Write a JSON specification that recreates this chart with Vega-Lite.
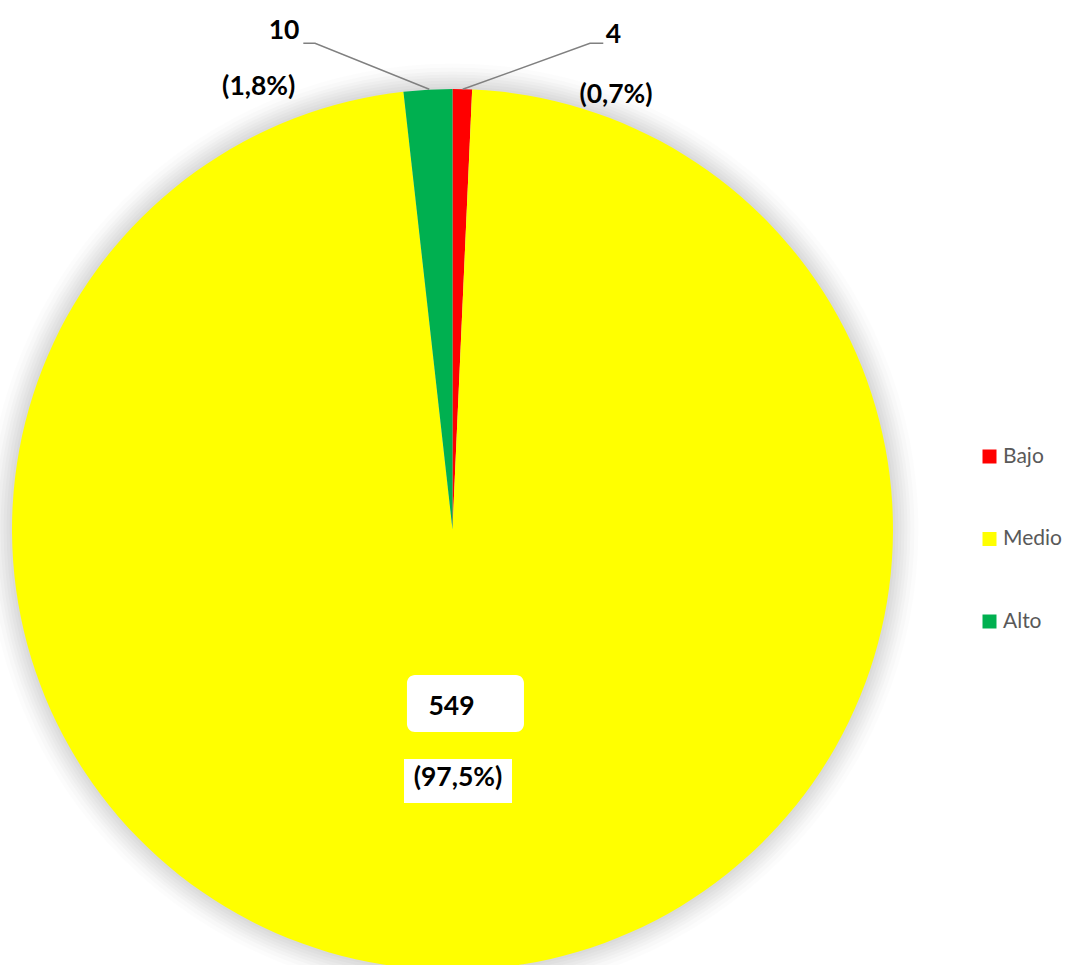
{
  "$schema": "https://vega.github.io/schema/vega-lite/v6.json",
  "width": 1066,
  "height": 965,
  "padding": 0,
  "autosize": {"type": "none"},
  "background": "white",
  "config": {"view": {"stroke": null}},
  "datasets": {
    "niveles": [
      {"nivel": "Bajo", "n": 4, "orden": 1},
      {"nivel": "Medio", "n": 549, "orden": 2},
      {"nivel": "Alto", "n": 10, "orden": 3}
    ],
    "posiciones": [
      {"nivel": "Bajo", "vx": 0.3655, "vy": 1.1237, "px": 0.3712, "py": 0.9864},
      {"nivel": "Medio", "vx": -0.0023, "vy": -0.403, "px": 0.0125, "py": -0.5641},
      {"nivel": "Alto", "vx": -0.3825, "vy": 1.1317, "px": -0.4399, "py": 1.0045}
    ],
    "guias": [
      {"nivel": "Alto", "paso": 1, "gx": -0.3387, "gy": 1.1037},
      {"nivel": "Alto", "paso": 2, "gx": -0.3121, "gy": 1.1037},
      {"nivel": "Alto", "paso": 3, "gx": -0.0527, "gy": 0.9993},
      {"nivel": "Bajo", "paso": 1, "gx": 0.3423, "gy": 1.1037},
      {"nivel": "Bajo", "paso": 2, "gx": 0.3121, "gy": 1.1037},
      {"nivel": "Bajo", "paso": 3, "gx": 0.0232, "gy": 0.9993}
    ],
    "centro": [{"cx": 0, "cy": 0}]
  },
  "layer": [
    {
      "data": {"name": "centro"},
      "layer": [
        {"mark": {"type": "arc", "theta": 0, "theta2": 6.2832, "outerRadius": 443, "fill": "#000", "fillOpacity": 0.02}},
        {"mark": {"type": "arc", "theta": 0, "theta2": 6.2832, "outerRadius": 446, "fill": "#000", "fillOpacity": 0.02}},
        {"mark": {"type": "arc", "theta": 0, "theta2": 6.2832, "outerRadius": 449, "fill": "#000", "fillOpacity": 0.02}},
        {"mark": {"type": "arc", "theta": 0, "theta2": 6.2832, "outerRadius": 452, "fill": "#000", "fillOpacity": 0.02}},
        {"mark": {"type": "arc", "theta": 0, "theta2": 6.2832, "outerRadius": 455, "fill": "#000", "fillOpacity": 0.02}},
        {"mark": {"type": "arc", "theta": 0, "theta2": 6.2832, "outerRadius": 458, "fill": "#000", "fillOpacity": 0.02}},
        {"mark": {"type": "arc", "theta": 0, "theta2": 6.2832, "outerRadius": 462, "fill": "#000", "fillOpacity": 0.015}},
        {"mark": {"type": "arc", "theta": 0, "theta2": 6.2832, "outerRadius": 466, "fill": "#000", "fillOpacity": 0.01}}
      ],
      "encoding": {
        "x": {"field": "cx", "type": "quantitative", "scale": {"domain": [-1.02724, 1.39274], "nice": false, "zero": false}, "axis": null},
        "y": {"field": "cy", "type": "quantitative", "scale": {"domain": [-0.98865, 1.20204], "nice": false, "zero": false}, "axis": null}
      }
    },
    {
      "data": {"name": "niveles"},
      "transform": [{"calculate": "0", "as": "cx"}, {"calculate": "0", "as": "cy"}],
      "mark": {"type": "arc", "outerRadius": 440.5, "strokeWidth": 0},
      "encoding": {
        "x": {"field": "cx", "type": "quantitative", "scale": {"domain": [-1.02724, 1.39274], "nice": false, "zero": false}, "axis": null},
        "y": {"field": "cy", "type": "quantitative", "scale": {"domain": [-0.98865, 1.20204], "nice": false, "zero": false}, "axis": null},
        "theta": {"field": "n", "type": "quantitative", "stack": true},
        "order": {"field": "orden", "type": "quantitative"},
        "color": {
          "field": "nivel",
          "type": "nominal",
          "scale": {"domain": ["Bajo", "Medio", "Alto"], "range": ["#FF0000", "#FFFF00", "#00B050"]},
          "legend": {
            "title": null,
            "orient": "none",
            "legendX": 979,
            "legendY": 446,
            "padding": 0,
            "symbolType": "square",
            "symbolSize": 196,
            "symbolStrokeWidth": 0,
            "labelFont": "Lato",
            "labelFontSize": 21,
            "labelColor": "#595959",
            "labelOffset": 3,
            "rowPadding": 60.5
          }
        }
      }
    },
    {
      "data": {"name": "guias"},
      "mark": {"type": "line", "color": "#808080", "strokeWidth": 1.5},
      "encoding": {
        "x": {"field": "gx", "type": "quantitative", "scale": {"domain": [-1.02724, 1.39274], "nice": false, "zero": false}, "axis": null},
        "y": {"field": "gy", "type": "quantitative", "scale": {"domain": [-0.98865, 1.20204], "nice": false, "zero": false}, "axis": null},
        "detail": {"field": "nivel"},
        "order": {"field": "paso", "type": "quantitative"}
      }
    },
    {
      "data": {"name": "niveles"},
      "transform": [
        {"joinaggregate": [{"op": "sum", "field": "n", "as": "total"}]},
        {"calculate": "'(' + replace(format(datum.n / datum.total, '.1%'), '.', ',') + ')'", "as": "pct"},
        {"lookup": "nivel", "from": {"data": {"name": "posiciones"}, "key": "nivel", "fields": ["vx", "vy", "px", "py"]}}
      ],
      "layer": [
        {
          "transform": [{"filter": "datum.nivel === 'Medio'"}],
          "mark": {
            "type": "point",
            "shape": "M-0.624,-0.547 H1.102 A0.137,0.137 0 0 1 1.239,-0.41 V0.29 A0.137,0.137 0 0 1 1.102,0.427 H-0.624 A0.137,0.137 0 0 1 -0.761,0.29 V-0.41 A0.137,0.137 0 0 1 -0.624,-0.547 Z",
            "size": 13689,
            "filled": true,
            "fill": "white",
            "opacity": 1,
            "strokeWidth": 0
          },
          "encoding": {
            "x": {"field": "vx", "type": "quantitative", "scale": {"domain": [-1.02724, 1.39274], "nice": false, "zero": false}, "axis": null},
            "y": {"field": "vy", "type": "quantitative", "scale": {"domain": [-0.98865, 1.20204], "nice": false, "zero": false}, "axis": null}
          }
        },
        {
          "transform": [{"filter": "datum.nivel === 'Medio'"}],
          "mark": {
            "type": "point",
            "shape": "M-1,-0.352 H1 V0.463 H-1 Z",
            "size": 11664,
            "filled": true,
            "fill": "white",
            "opacity": 1,
            "strokeWidth": 0
          },
          "encoding": {
            "x": {"field": "px", "type": "quantitative", "scale": {"domain": [-1.02724, 1.39274], "nice": false, "zero": false}, "axis": null},
            "y": {"field": "py", "type": "quantitative", "scale": {"domain": [-0.98865, 1.20204], "nice": false, "zero": false}, "axis": null}
          }
        },
        {
          "mark": {"type": "text", "font": "Lato", "fontWeight": "bold", "fontSize": 26.5, "color": "#000", "align": "center", "baseline": "middle"},
          "encoding": {
            "x": {"field": "vx", "type": "quantitative", "scale": {"domain": [-1.02724, 1.39274], "nice": false, "zero": false}, "axis": null},
            "y": {"field": "vy", "type": "quantitative", "scale": {"domain": [-0.98865, 1.20204], "nice": false, "zero": false}, "axis": null},
            "text": {"field": "n", "type": "quantitative", "format": "d"}
          }
        },
        {
          "mark": {"type": "text", "font": "Lato", "fontWeight": "bold", "fontSize": 26.5, "color": "#000", "align": "center", "baseline": "middle"},
          "encoding": {
            "x": {"field": "px", "type": "quantitative", "scale": {"domain": [-1.02724, 1.39274], "nice": false, "zero": false}, "axis": null},
            "y": {"field": "py", "type": "quantitative", "scale": {"domain": [-0.98865, 1.20204], "nice": false, "zero": false}, "axis": null},
            "text": {"field": "pct", "type": "nominal"}
          }
        }
      ]
    }
  ]
}
